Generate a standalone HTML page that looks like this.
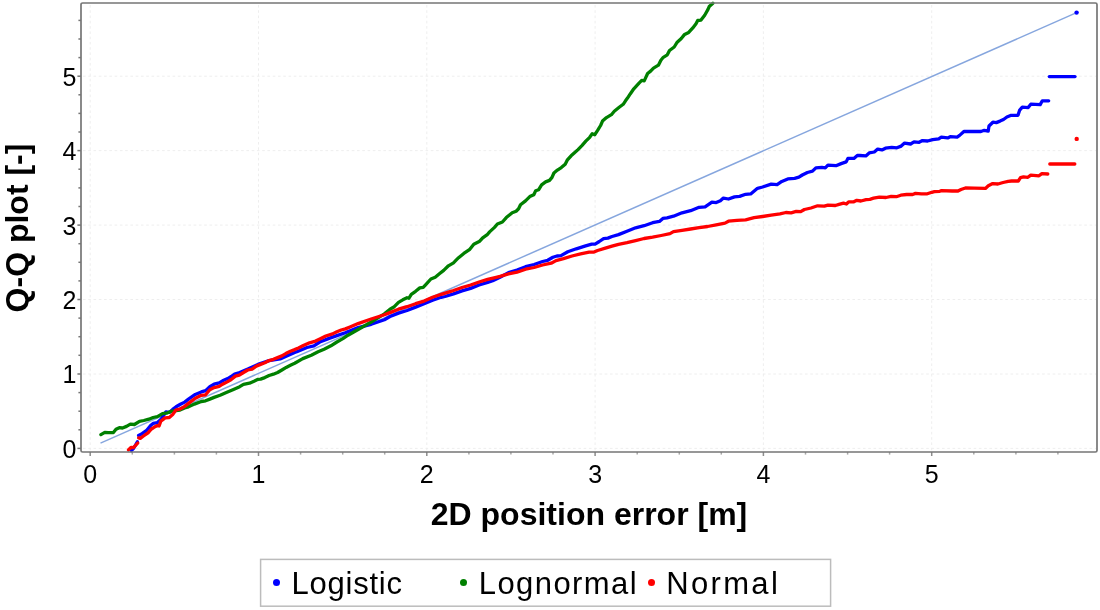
<!DOCTYPE html>
<html><head><meta charset="utf-8"><style>
html,body{margin:0;padding:0;background:#fff;}
body{width:1100px;height:610px;position:relative;overflow:hidden;font-family:"Liberation Sans",sans-serif;color:#000;}
#wrap{position:absolute;left:0;top:0;width:1100px;height:610px;filter:blur(0.35px);}
svg{position:absolute;left:0;top:0;}
.tx{position:absolute;width:40px;text-align:center;font-size:25px;line-height:28px;}
.ty{position:absolute;left:41.3px;width:35px;text-align:right;font-size:25px;line-height:28px;}
#xl{position:absolute;left:39px;width:1100px;top:494.3px;text-align:center;font-weight:bold;font-size:32px;line-height:40px;letter-spacing:0px;}
#yl{position:absolute;left:17px;top:228px;width:0;height:0;}
#yl span{position:absolute;left:0;top:0;transform:translate(-50%,-50%) rotate(-90deg);white-space:nowrap;font-weight:bold;font-size:32px;line-height:34px;letter-spacing:0px;}
#leg{position:absolute;left:261px;top:560px;width:569px;height:46px;}
.li{position:absolute;top:1px;font-size:31px;line-height:46px;white-space:nowrap;}
.dot{position:absolute;width:7px;height:7px;border-radius:50%;top:18.8px;}
</style></head><body><div id="wrap">
<svg width="1100" height="610" viewBox="0 0 1100 610">
<g stroke="#ececec" stroke-width="0.9" stroke-dasharray="2.6 2.67"><line x1="90.2" y1="5" x2="90.2" y2="451"/><line x1="83" y1="448.4" x2="1096" y2="448.4"/><line x1="258.5" y1="5" x2="258.5" y2="451"/><line x1="83" y1="374.0" x2="1096" y2="374.0"/><line x1="426.8" y1="5" x2="426.8" y2="451"/><line x1="83" y1="299.5" x2="1096" y2="299.5"/><line x1="595.1" y1="5" x2="595.1" y2="451"/><line x1="83" y1="225.1" x2="1096" y2="225.1"/><line x1="763.4" y1="5" x2="763.4" y2="451"/><line x1="83" y1="150.6" x2="1096" y2="150.6"/><line x1="931.7" y1="5" x2="931.7" y2="451"/><line x1="83" y1="76.2" x2="1096" y2="76.2"/></g>
<g stroke-width="1.5"><line x1="90.2" y1="452" x2="90.2" y2="456" stroke="#8c8c8c"/><line x1="132.3" y1="452" x2="132.3" y2="454.6" stroke="#a8a8a8"/><line x1="174.4" y1="452" x2="174.4" y2="454.6" stroke="#a8a8a8"/><line x1="216.4" y1="452" x2="216.4" y2="454.6" stroke="#a8a8a8"/><line x1="258.5" y1="452" x2="258.5" y2="456" stroke="#8c8c8c"/><line x1="300.6" y1="452" x2="300.6" y2="454.6" stroke="#a8a8a8"/><line x1="342.7" y1="452" x2="342.7" y2="454.6" stroke="#a8a8a8"/><line x1="384.7" y1="452" x2="384.7" y2="454.6" stroke="#a8a8a8"/><line x1="426.8" y1="452" x2="426.8" y2="456" stroke="#8c8c8c"/><line x1="468.9" y1="452" x2="468.9" y2="454.6" stroke="#a8a8a8"/><line x1="510.9" y1="452" x2="510.9" y2="454.6" stroke="#a8a8a8"/><line x1="553.0" y1="452" x2="553.0" y2="454.6" stroke="#a8a8a8"/><line x1="595.1" y1="452" x2="595.1" y2="456" stroke="#8c8c8c"/><line x1="637.2" y1="452" x2="637.2" y2="454.6" stroke="#a8a8a8"/><line x1="679.3" y1="452" x2="679.3" y2="454.6" stroke="#a8a8a8"/><line x1="721.3" y1="452" x2="721.3" y2="454.6" stroke="#a8a8a8"/><line x1="763.4" y1="452" x2="763.4" y2="456" stroke="#8c8c8c"/><line x1="805.5" y1="452" x2="805.5" y2="454.6" stroke="#a8a8a8"/><line x1="847.6" y1="452" x2="847.6" y2="454.6" stroke="#a8a8a8"/><line x1="889.6" y1="452" x2="889.6" y2="454.6" stroke="#a8a8a8"/><line x1="931.7" y1="452" x2="931.7" y2="456" stroke="#8c8c8c"/><line x1="973.8" y1="452" x2="973.8" y2="454.6" stroke="#a8a8a8"/><line x1="1015.9" y1="452" x2="1015.9" y2="454.6" stroke="#a8a8a8"/><line x1="1057.9" y1="452" x2="1057.9" y2="454.6" stroke="#a8a8a8"/><line x1="77.4" y1="448.4" x2="81" y2="448.4" stroke="#777"/><line x1="78.4" y1="429.8" x2="81" y2="429.8" stroke="#777"/><line x1="78.4" y1="411.2" x2="81" y2="411.2" stroke="#777"/><line x1="78.4" y1="392.6" x2="81" y2="392.6" stroke="#777"/><line x1="77.4" y1="374.0" x2="81" y2="374.0" stroke="#777"/><line x1="78.4" y1="355.3" x2="81" y2="355.3" stroke="#777"/><line x1="78.4" y1="336.7" x2="81" y2="336.7" stroke="#777"/><line x1="78.4" y1="318.1" x2="81" y2="318.1" stroke="#777"/><line x1="77.4" y1="299.5" x2="81" y2="299.5" stroke="#777"/><line x1="78.4" y1="280.9" x2="81" y2="280.9" stroke="#777"/><line x1="78.4" y1="262.3" x2="81" y2="262.3" stroke="#777"/><line x1="78.4" y1="243.7" x2="81" y2="243.7" stroke="#777"/><line x1="77.4" y1="225.1" x2="81" y2="225.1" stroke="#777"/><line x1="78.4" y1="206.5" x2="81" y2="206.5" stroke="#777"/><line x1="78.4" y1="187.9" x2="81" y2="187.9" stroke="#777"/><line x1="78.4" y1="169.2" x2="81" y2="169.2" stroke="#777"/><line x1="77.4" y1="150.6" x2="81" y2="150.6" stroke="#777"/><line x1="78.4" y1="132.0" x2="81" y2="132.0" stroke="#777"/><line x1="78.4" y1="113.4" x2="81" y2="113.4" stroke="#777"/><line x1="78.4" y1="94.8" x2="81" y2="94.8" stroke="#777"/><line x1="77.4" y1="76.2" x2="81" y2="76.2" stroke="#777"/><line x1="78.4" y1="57.6" x2="81" y2="57.6" stroke="#777"/><line x1="78.4" y1="39.0" x2="81" y2="39.0" stroke="#777"/><line x1="78.4" y1="20.4" x2="81" y2="20.4" stroke="#777"/></g>
<line x1="100.5" y1="443.1" x2="1076.6" y2="12.6" stroke="#86a6de" stroke-width="1.5"/>
<polyline points="131.3,450.5 133.5,448.5 137.4,441.8" fill="none" stroke="#0000ff" stroke-width="3.3" stroke-linecap="round" stroke-linejoin="round"/>
<polyline points="138.6,435.4 142.0,433.7 146.3,430.7 150.6,425.6 153.1,423.4 157.4,422.6 160.8,419.6 165.9,411.9 169.3,412.4 172.7,409.4 176.1,406.8 180.4,404.3 184.7,402.1 188.5,399.1 195.3,394.4 201.3,391.9 205.6,390.6 209.8,386.7 214.1,384.2 219.2,382.9 222.6,380.8 227.7,378.6 231.2,376.5 234.6,374.1 239.7,372.6 247.8,369.1 258.0,364.4 269.1,360.6 280.2,358.9 286.2,356.3 294.7,352.5 296.8,351.8 307.0,347.5 313.9,345.8 319.8,342.0 328.4,338.6 336.9,335.6 345.2,332.8 358.1,327.6 371.2,324.3 384.4,319.7 390.0,316.5 398.5,313.1 407.0,310.5 415.6,307.1 424.1,303.7 432.6,300.3 441.2,297.3 445.0,296.5 453.5,293.9 462.0,290.9 470.6,288.4 479.1,285.0 487.6,282.4 492.7,280.7 500.0,277.2 508.5,272.6 517.0,270.1 525.6,266.7 534.1,264.5 542.6,261.5 547.7,260.3 552.9,257.3 557.0,256.0 561.0,255.6 567.8,251.8 576.3,248.8 584.8,246.2 591.7,244.1 595.1,244.1 599.3,241.5 603.6,238.6 607.9,238.1 612.0,236.5 618.5,234.6 627.0,231.2 635.6,227.8 644.1,225.7 652.6,222.7 659.4,221.4 662.9,218.4 667.0,217.8 673.5,216.2 682.0,212.8 690.6,210.7 699.1,207.3 705.1,206.9 711.9,202.2 716.2,202.6 720.4,200.8 723.4,198.1 728.5,199.0 734.5,196.9 739.6,196.4 745.6,194.3 750.7,193.9 757.5,188.3 762.6,187.0 771.2,184.1 777.1,184.6 781.8,181.4 787.8,178.9 794.6,178.4 798.9,177.2 802.3,175.0 807.4,172.5 812.5,171.2 815.9,167.8 821.9,167.4 825.3,167.8 827.9,165.2 836.0,165.7 841.1,163.6 846.2,161.9 847.9,158.4 853.9,158.4 857.3,155.5 859.8,155.5 865.8,155.9 869.2,152.9 874.3,152.0 877.7,149.1 882.0,149.9 885.4,148.2 891.8,147.4 896.9,147.8 901.2,146.1 904.6,143.1 910.6,144.0 914.0,141.9 919.1,142.3 922.5,140.6 927.6,141.0 932.7,139.7 938.7,138.9 941.3,137.2 947.7,137.9 950.2,136.7 957.1,137.1 959.6,135.4 963.9,131.5 974.1,131.5 980.9,131.5 984.3,130.3 988.2,131.1 989.0,126.0 992.9,122.2 996.3,122.6 1000.0,121.1 1003.5,119.5 1006.9,117.0 1011.2,115.3 1018.0,115.3 1019.7,110.1 1022.3,107.2 1028.2,107.6 1030.8,104.2 1040.2,104.6 1042.3,100.8 1048.7,100.8" fill="none" stroke="#0000ff" stroke-width="3.3" stroke-linecap="round" stroke-linejoin="round"/>
<polyline points="100.9,434.6 104.8,432.3 108.1,432.6 113.4,432.6 116.0,429.3 119.3,427.7 122.5,428.0 126.5,426.4 130.4,424.1 134.4,424.5 139.5,421.3 143.8,420.5 148.9,419.2 153.1,417.5 157.4,416.6 162.5,413.6 167.6,412.8 171.9,411.1 176.0,410.6 180.0,410.0 184.6,407.9 188.5,406.8 194.4,404.1 201.3,401.5 205.6,400.8 209.8,399.1 214.1,397.4 220.1,395.3 226.9,392.3 232.9,389.7 239.7,386.7 243.5,384.4 249.5,383.2 254.0,381.2 258.0,379.3 260.6,379.1 264.8,377.6 269.1,375.5 273.4,374.2 277.6,372.5 281.9,370.0 286.2,367.4 290.4,365.3 294.7,363.3 302.8,358.6 311.3,355.2 318.1,351.8 324.1,349.2 330.9,345.8 336.9,342.0 342.9,338.6 348.0,335.2 358.1,329.5 371.2,322.0 384.4,313.8 390.0,309.2 394.3,306.7 398.5,302.4 402.8,299.8 407.0,297.7 408.8,298.3 411.3,294.3 415.6,291.3 419.8,287.9 423.2,287.3 426.7,283.6 430.9,279.0 435.2,277.2 439.4,273.8 443.7,270.4 448.4,265.8 453.5,262.8 456.1,260.2 458.6,257.7 463.8,253.4 469.8,249.3 473.8,244.2 479.7,241.2 482.7,237.8 487.6,234.3 489.6,231.9 494.5,227.4 497.4,224.0 502.4,222.0 506.3,217.6 512.2,212.7 516.1,211.2 518.6,208.8 520.5,204.8 525.5,200.9 529.8,196.6 533.8,194.7 535.7,190.7 538.7,189.7 541.6,184.8 545.6,181.9 549.5,180.4 552.0,177.4 553.9,173.0 557.4,170.1 561.3,167.6 565.2,164.2 567.2,160.2 571.1,155.8 574.5,152.8 578.0,149.6 581.9,145.6 585.8,141.2 589.7,137.3 592.2,133.8 594.7,134.8 597.6,130.4 600.6,125.5 602.5,121.1 606.5,117.6 611.4,114.7 614.3,111.2 619.2,107.3 623.2,104.3 625.5,100.8 627.5,98.1 630.4,93.7 633.8,88.8 638.8,83.3 641.7,80.4 644.2,80.9 645.6,77.9 647.6,73.5 650.6,71.1 653.5,68.1 658.4,65.2 660.9,60.2 663.3,57.3 667.3,54.8 669.5,50.5 674.2,47.0 677.2,42.2 681.3,38.5 684.6,34.4 688.7,32.4 692.8,27.9 696.0,23.8 697.7,20.5 701.0,20.1 704.7,15.2 708.0,9.4 709.2,6.6 712.9,3.3" fill="none" stroke="#008000" stroke-width="3.3" stroke-linecap="round" stroke-linejoin="round"/>
<polyline points="128.4,449.9 131.0,447.3 133.5,447.7 137.8,443.0" fill="none" stroke="#ff0000" stroke-width="3.3" stroke-linecap="round" stroke-linejoin="round"/>
<polyline points="138.6,437.9 140.3,438.4 143.8,435.8 148.0,432.8 151.4,429.0 154.0,427.3 157.4,425.6 159.1,426.0 160.8,421.3 165.1,417.9 169.3,417.5 172.7,414.5 176.1,409.8 179.6,409.2 184.7,406.4 188.5,403.4 195.3,398.2 201.3,395.3 205.6,394.8 209.8,389.7 214.1,387.6 219.2,386.3 222.6,384.2 227.7,381.6 231.2,379.5 235.4,376.1 239.3,375.1 243.5,372.5 247.8,370.0 252.1,369.1 256.3,366.1 260.6,364.4 264.8,362.7 269.1,360.6 273.4,359.3 277.6,357.6 281.9,355.9 286.2,353.3 290.4,351.2 294.7,349.6 298.5,347.9 302.8,345.8 309.6,342.8 315.6,341.1 319.8,339.0 325.8,336.0 332.6,333.9 336.9,331.7 341.2,330.0 345.4,328.9 350.0,327.0 358.1,323.6 371.2,319.0 384.4,314.8 390.0,312.6 398.5,309.2 407.0,306.7 415.6,303.7 424.1,301.1 432.6,297.3 441.2,294.3 450.0,291.6 453.5,290.5 462.0,287.5 470.6,285.0 479.1,282.0 487.6,279.4 496.2,277.3 500.0,276.4 508.5,273.9 517.0,272.2 525.6,269.2 534.1,267.5 542.6,265.0 551.2,263.2 556.0,260.6 563.5,258.6 572.0,256.0 580.6,253.9 589.1,252.2 593.4,252.2 597.6,250.5 606.2,247.9 612.0,246.2 618.5,244.4 627.0,242.7 635.6,240.6 644.1,238.5 652.6,237.2 661.2,235.5 670.0,233.6 673.5,231.6 682.0,230.3 690.6,229.0 699.1,227.7 707.6,226.5 716.2,224.8 725.0,223.1 728.5,221.2 737.0,220.3 745.6,219.9 754.1,217.7 762.6,216.5 771.2,215.2 780.0,213.9 785.9,212.5 791.1,212.8 796.2,211.4 800.7,211.7 804.4,209.5 811.0,208.0 817.6,205.8 824.3,206.2 828.0,205.1 835.4,205.5 839.0,204.4 843.5,203.2 846.4,204.0 848.6,201.8 853.8,201.8 856.8,200.3 860.9,201.0 866.1,199.7 869.8,199.3 873.5,198.2 879.4,197.1 886.0,197.5 891.2,196.4 896.3,196.7 900.8,195.2 906.7,194.5 912.6,194.5 915.5,193.4 921.4,193.8 927.3,193.8 931.8,192.3 934.4,191.7 939.6,191.4 941.1,190.6 952.1,191.0 958.0,191.0 961.0,189.5 965.4,188.0 974.3,188.2 985.4,188.4 988.3,185.8 992.7,183.6 997.9,184.0 1003.1,182.5 1008.2,181.4 1011.6,181.0 1018.3,181.0 1020.5,177.7 1023.5,176.9 1027.9,177.3 1030.8,175.1 1039.0,175.8 1041.9,173.6 1047.8,174.0" fill="none" stroke="#ff0000" stroke-width="3.3" stroke-linecap="round" stroke-linejoin="round"/>
<polyline points="1049.3,76.6 1075.0,76.6" fill="none" stroke="#0000ff" stroke-width="3.3" stroke-linecap="round" stroke-linejoin="round"/>
<polyline points="1049.8,164.0 1074.8,164.0" fill="none" stroke="#ff0000" stroke-width="3.3" stroke-linecap="round" stroke-linejoin="round"/>
<circle cx="1076.6" cy="12.6" r="2.2" fill="#0000ff"/>
<circle cx="1076.7" cy="138.9" r="2.2" fill="#ff0000"/>
<rect x="81" y="3" width="1016" height="449" rx="1.6" fill="none" stroke="#767676" stroke-width="1.7"/>
<rect x="260.6" y="559.4" width="570" height="46.8" fill="none" stroke="#bcbcbc" stroke-width="1.5"/>
</svg>
<div class="tx" style="left:70.2px;top:460px">0</div>
<div class="ty" style="top:434.8px">0</div>
<div class="tx" style="left:238.5px;top:460px">1</div>
<div class="ty" style="top:360.4px">1</div>
<div class="tx" style="left:406.8px;top:460px">2</div>
<div class="ty" style="top:285.9px">2</div>
<div class="tx" style="left:575.1px;top:460px">3</div>
<div class="ty" style="top:211.5px">3</div>
<div class="tx" style="left:743.4px;top:460px">4</div>
<div class="ty" style="top:137.0px">4</div>
<div class="tx" style="left:911.7px;top:460px">5</div>
<div class="ty" style="top:62.6px">5</div>
<div id="xl">2D position error [m]</div>
<div id="yl"><span>Q-Q plot [-]</span></div>
<div id="leg">
<div class="dot" style="left:12px;background:#0000ff"></div><div class="li" style="left:30.5px;letter-spacing:0.77px">Logistic</div>
<div class="dot" style="left:199px;background:#008000"></div><div class="li" style="left:217.8px;letter-spacing:1.42px">Lognormal</div>
<div class="dot" style="left:387px;background:#ff0000"></div><div class="li" style="left:405.3px;letter-spacing:2.32px">Normal</div>
</div>
</div></body></html>
